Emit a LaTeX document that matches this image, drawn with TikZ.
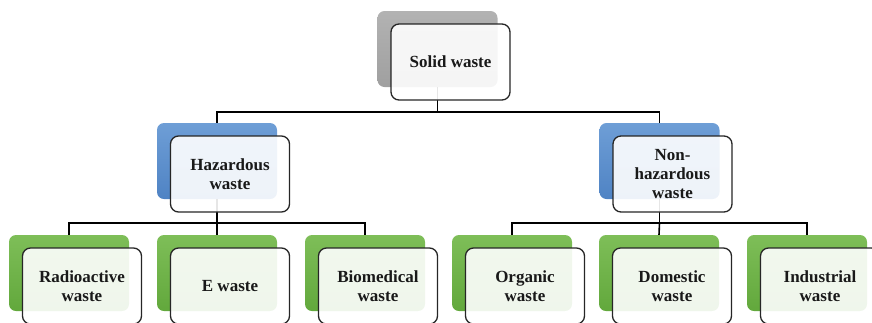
\documentclass[tikz,border=0pt]{standalone}
\usepackage{fontspec}
\setmainfont{Liberation Serif}
\begin{document}
\begin{tikzpicture}[x=1pt,y=-1pt,
  backbox/.style={minimum width=120pt,minimum height=76pt,inner sep=0pt,
    rounded corners=7pt,draw=none},
  graybox/.style={backbox,top color=gray!60,bottom color=gray!75},
  bluebox/.style={backbox,top color={rgb,255:red,110;green,158;blue,214},
    bottom color={rgb,255:red,79;green,131;blue,196}},
  greenbox/.style={backbox,top color={rgb,255:red,126;green,190;blue,88},
    bottom color={rgb,255:red,98;green,168;blue,60}},
  frontbox/.style={minimum width=119pt,minimum height=76pt,inner sep=2pt,
    rounded corners=8pt,draw=black!85,line width=1.3pt,fill=white,
    fill opacity=0.9,text opacity=1,align=center,
    font=\fontsize{17}{19}\selectfont\bfseries,text=black!90},
  link/.style={draw=black,line width=1.6pt}
]
\useasboundingbox (0,0) rectangle (872,322);

% back panels
\node[graybox] (b0) at (437.5,49) {};
\node[bluebox] (bh) at (217,161) {};
\node[bluebox] (bn) at (659.5,161) {};
\node[greenbox] (g1) at (69,273) {};
\node[greenbox] (g2) at (217,273) {};
\node[greenbox] (g3) at (365,273) {};
\node[greenbox] (g4) at (512,273) {};
\node[greenbox] (g5) at (659,273) {};
\node[greenbox] (g6) at (807,273) {};

% level rails
\coordinate (r0) at (0,112);
\coordinate (r1) at (0,223);

% connectors (drawn beneath the front cards)
\draw[link] (b0.south) -- (b0.south |- r0) -| (bh.north);
\draw[link] (b0.south |- r0) -| (bn.north);
\draw[link] (bh.south) -- (bh.south |- r1) -| (g1.north);
\draw[link] (bh.south |- r1) -- (g2.north);
\draw[link] (bh.south |- r1) -| (g3.north);
\draw[link] (bn.south) -- (bn.south |- r1) -| (g4.north);
\draw[link] (bn.south |- r1) -- (g5.north);
\draw[link] (bn.south |- r1) -| (g6.north);

% front cards
\node[frontbox] (f0) at ([shift={(13,13)}]b0.center) {Solid waste};
\node[frontbox] (fh) at ([shift={(13,13)}]bh.center) {Hazardous\\waste};
\node[frontbox] (fn) at ([shift={(13,13)}]bn.center) {Non-\\hazardous\\waste};
\node[frontbox] (f1) at ([shift={(13,13)}]g1.center) {Radioactive\\waste};
\node[frontbox] (f2) at ([shift={(13,13)}]g2.center) {E waste};
\node[frontbox] (f3) at ([shift={(13,13)}]g3.center) {Biomedical\\waste};
\node[frontbox] (f4) at ([shift={(13,13)}]g4.center) {Organic\\waste};
\node[frontbox] (f5) at ([shift={(13,13)}]g5.center) {Domestic\\waste};
\node[frontbox] (f6) at ([shift={(13,13)}]g6.center) {Industrial\\waste};
\end{tikzpicture}
\end{document}
